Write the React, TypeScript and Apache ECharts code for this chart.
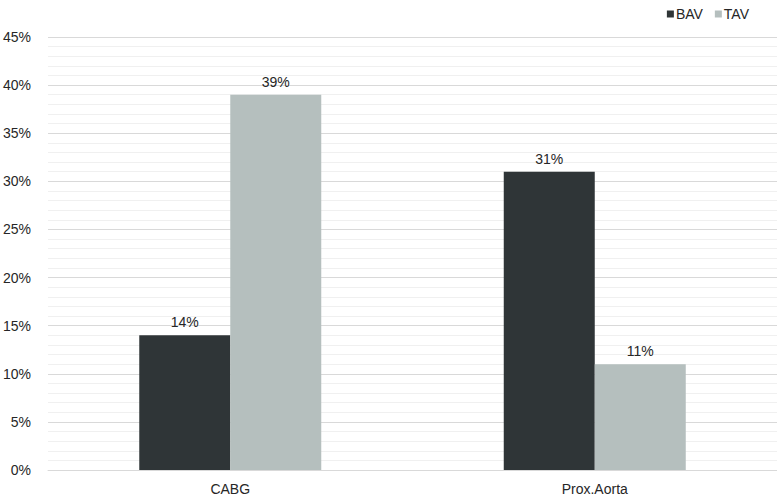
import React, { useEffect, useRef } from "react";
import * as echarts from "echarts";

const categories = ["CABG", "Prox.Aorta"];
const bavValues = [14, 31];
const tavValues = [39, 11];
const seriesNames = ["BAV", "TAV"];

export default function App() {
  const ref = useRef<HTMLDivElement>(null);
  useEffect(() => {
    document.body.style.margin = "0";
    const chart = echarts.init(ref.current!, null, { renderer: "svg" });
    const font = "'Liberation Sans', Arial, sans-serif";
    const label = {
      show: true,
      position: "top" as const,
      formatter: "{c}%",
      color: "#262626",
      fontSize: 14,
      fontFamily: font,
      distance: 6,
    };
    chart.setOption({
      animation: false,
      legend: {
        data: seriesNames,
        top: 2,
        right: 23,
        icon: "rect",
        itemWidth: 7,
        itemHeight: 7,
        itemGap: 12,
        textStyle: { fontSize: 14, color: "#262626", fontFamily: font, padding: [0, 0, 0, -3] },
      },
      grid: { left: 46, right: 0, top: 37, bottom: 27, containLabel: false },
      xAxis: {
        type: "category",
        data: categories,
        axisLine: { show: true, lineStyle: { color: "#d9d9d9" } },
        axisTick: { show: false },
        axisLabel: { fontSize: 14, color: "#262626", fontFamily: font, margin: 12 },
      },
      yAxis: {
        type: "value",
        min: 0,
        max: 45,
        interval: 5,
        axisLine: { show: false },
        axisTick: { show: false },
        axisLabel: { formatter: "{value}%", fontSize: 14, color: "#262626", fontFamily: font, margin: 17 },
        splitLine: { lineStyle: { color: "#d9d9d9", width: 1 } },
        minorTick: { show: false, splitNumber: 5 },
        minorSplitLine: { show: true, lineStyle: { color: "#f0f0f0", width: 1 } },
      },
      series: [
        {
          name: seriesNames[0],
          type: "bar",
          data: bavValues,
          barWidth: 91,
          barGap: "0%",
          itemStyle: { color: "#2f3537" },
          label,
        },
        {
          name: seriesNames[1],
          type: "bar",
          data: tavValues,
          barWidth: 91,
          barGap: "0%",
          itemStyle: { color: "#b5bfbe" },
          label,
        },
      ],
    });
    return () => chart.dispose();
  }, []);
  return <div ref={ref} style={{ width: 777, height: 497 }} />;
}
